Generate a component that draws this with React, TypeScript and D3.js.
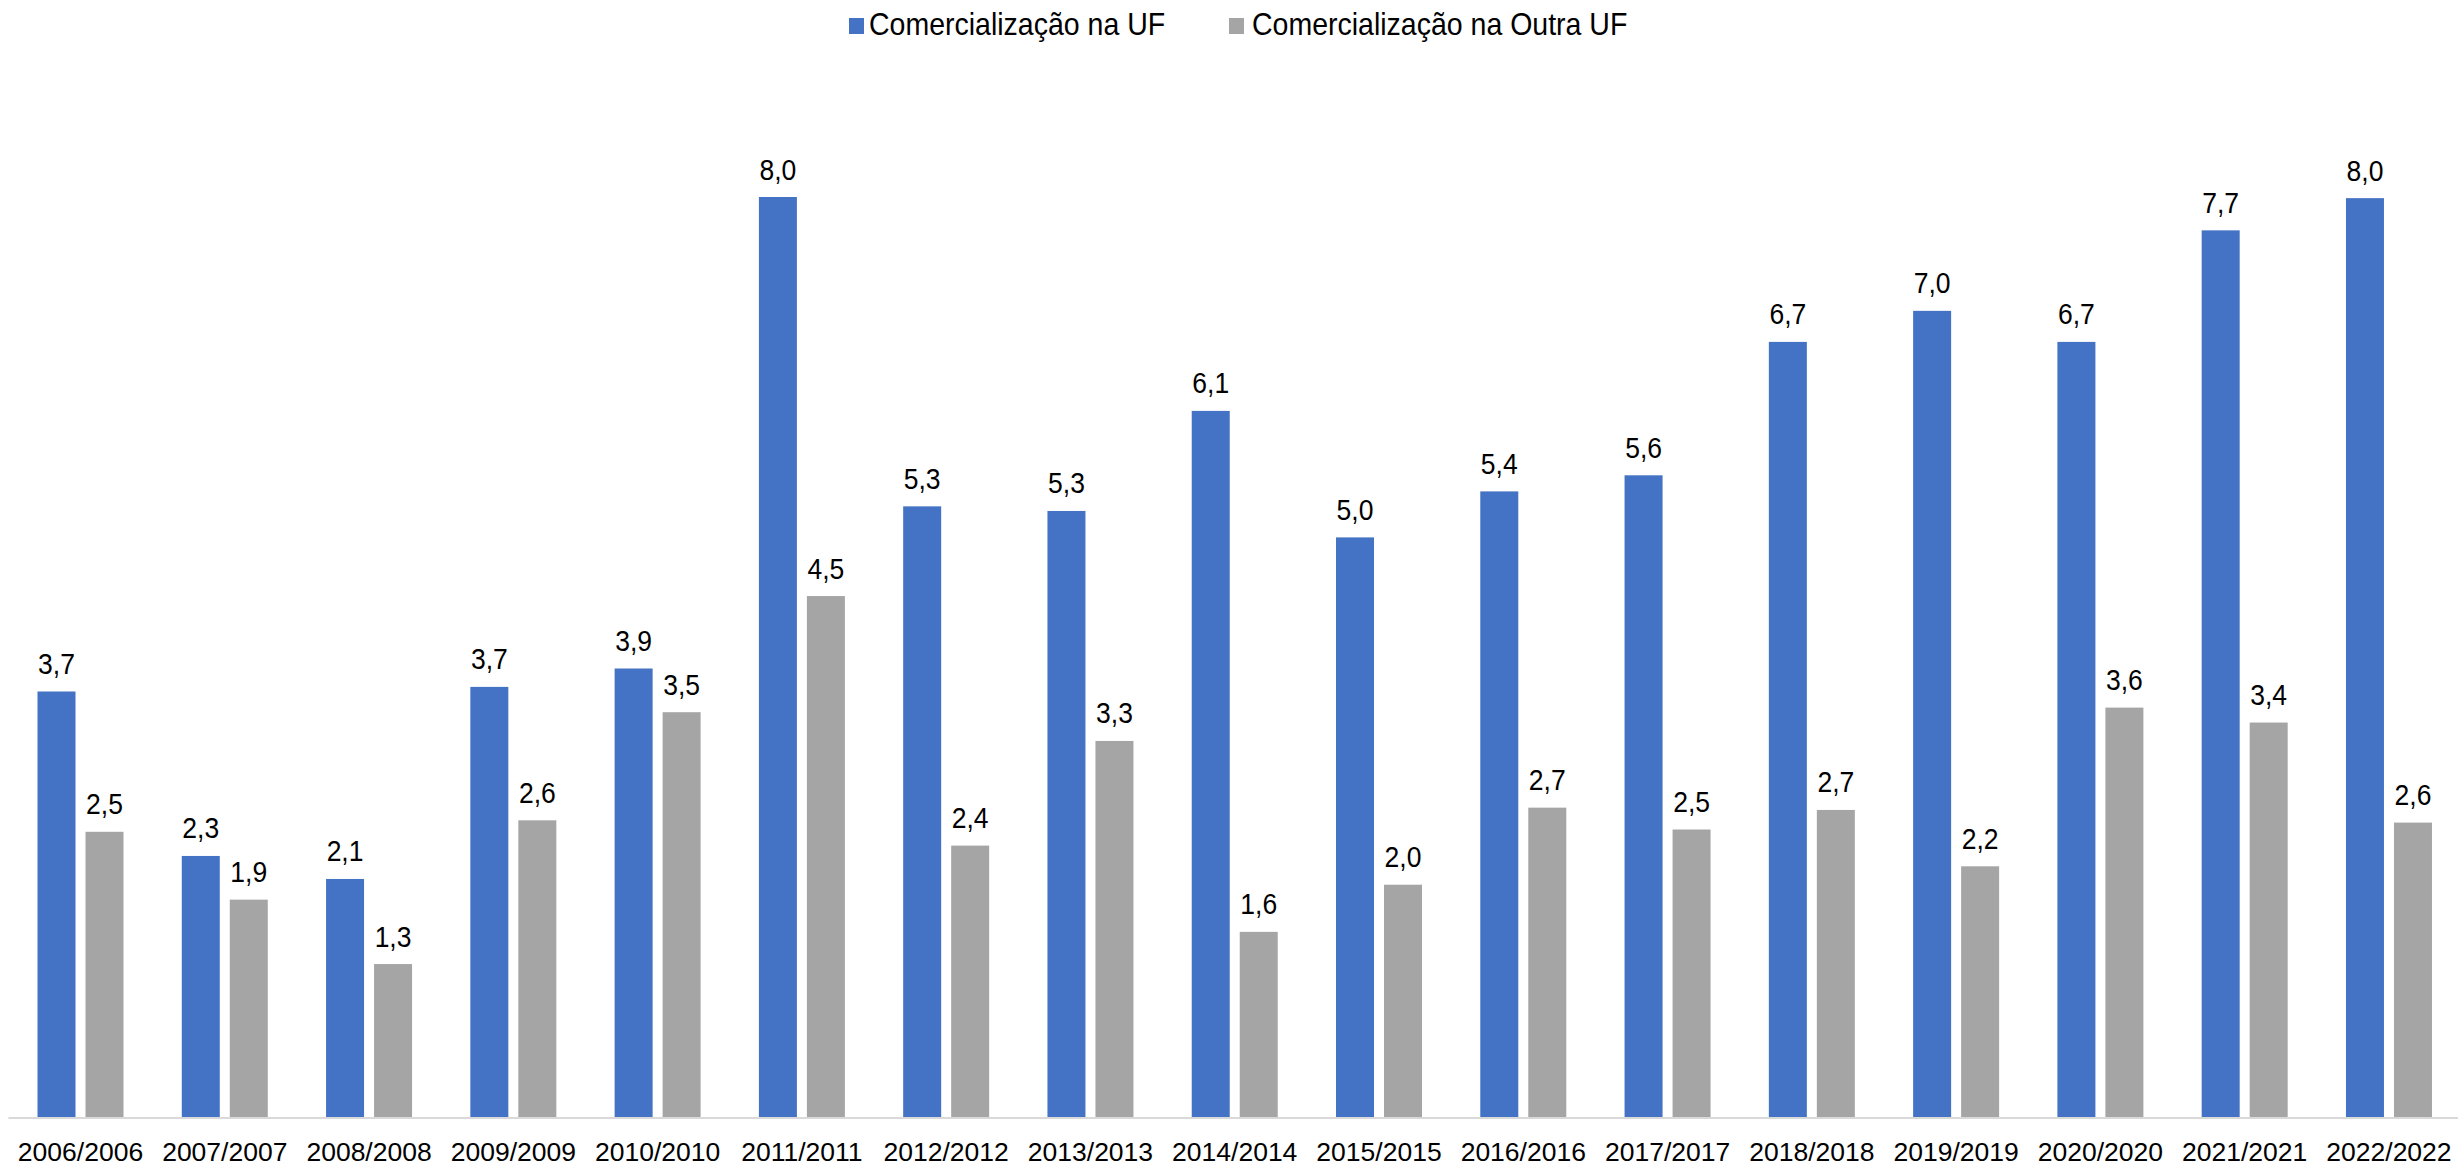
import React from "react";
import * as d3 from "d3";

const categories = [
  "2006/2006", "2007/2007", "2008/2008", "2009/2009", "2010/2010", "2011/2011",
  "2012/2012", "2013/2013", "2014/2014", "2015/2015", "2016/2016", "2017/2017",
  "2018/2018", "2019/2019", "2020/2020", "2021/2021", "2022/2022",
];
const seriesNames = ["Comercialização na UF", "Comercialização na Outra UF"];
const seriesColors = ["#4472C4", "#A5A5A5"];
const valuesUF = [3.70, 2.27, 2.07, 3.74, 3.90, 8.00, 5.31, 5.27, 6.14, 5.04, 5.44, 5.58, 6.74, 7.01, 6.74, 7.71, 7.99];
const valuesOutraUF = [2.48, 1.89, 1.33, 2.58, 3.52, 4.53, 2.36, 3.27, 1.61, 2.02, 2.69, 2.50, 2.67, 2.18, 3.56, 3.43, 2.56];
const yDomainMax = 9;

const W = 2458;
const H = 1167;
const TEXT_STRETCH = 1.08;

function Label({ x, y, size, anchor, stretch, children }: { x: number; y: number; size: number; anchor?: string; stretch?: number; children: React.ReactNode }) {
  return (
    <text
      transform={`translate(${x},${y}) scale(1,${stretch ?? TEXT_STRETCH})`}
      textAnchor={anchor || "start"}
      fontSize={size}
      fill="#000"
    >
      {children}
    </text>
  );
}

export default function App() {
  const series = [valuesUF, valuesOutraUF];
  const x0 = d3.scaleBand<string>().domain(categories).range([8.36, 2461.1]).padding(0);
  const x1 = d3
    .scaleBand<string>()
    .domain(seriesNames)
    .range([29.14, 115.14])
    .paddingInner(0.2083)
    .paddingOuter(0);
  const y = d3.scaleLinear().domain([0, yDomainMax]).range([1117, 82]);
  const fmt = (v: number) => (Math.round(v * 10) / 10).toFixed(1).replace(".", ",");
  const font = "'Liberation Sans', Arial, sans-serif";

  const legendItems = [
    { x: 849, tx: 869 },
    { x: 1229, tx: 1252 },
  ];

  return (
    <svg
      width={W}
      height={H}
      style={{ position: "absolute", left: 0, top: 0, display: "block", background: "#fff" }}
      fontFamily={font}
    >
      <rect x={0} y={0} width={W} height={H} fill="#fff" />
      {/* Legend */}
      {seriesNames.map((name, i) => (
        <g key={name}>
          <rect x={legendItems[i].x} y={18} width={15} height={16} fill={seriesColors[i]} />
          <Label x={legendItems[i].tx} y={35} size={28.5}>
            {name}
          </Label>
        </g>
      ))}

      {/* Bars */}
      {categories.map((cat, ci) => (
        <g key={cat} transform={`translate(${x0(cat)},0)`}>
          {seriesNames.map((s, si) => {
            const v = series[si][ci];
            const bx = x1(s)!;
            const bw = x1.bandwidth();
            return (
              <g key={s}>
                <rect x={bx} y={y(v)} width={bw} height={y(0) - y(v)} fill={seriesColors[si]} />
                <Label x={bx + bw / 2} y={y(v) - 17.5} size={26.5} anchor="middle">
                  {fmt(v)}
                </Label>
              </g>
            );
          })}
        </g>
      ))}

      {/* Axis line */}
      <line x1={8.4} x2={W} y1={y(0) + 1} y2={y(0) + 1} stroke="#D9D9D9" strokeWidth={2} />

      {/* Tick labels */}
      {categories.map((cat) => (
        <Label key={cat} x={x0(cat)! + x0.bandwidth() / 2} y={1161} size={26.5} anchor="middle" stretch={1}>
          {cat}
        </Label>
      ))}
    </svg>
  );
}
